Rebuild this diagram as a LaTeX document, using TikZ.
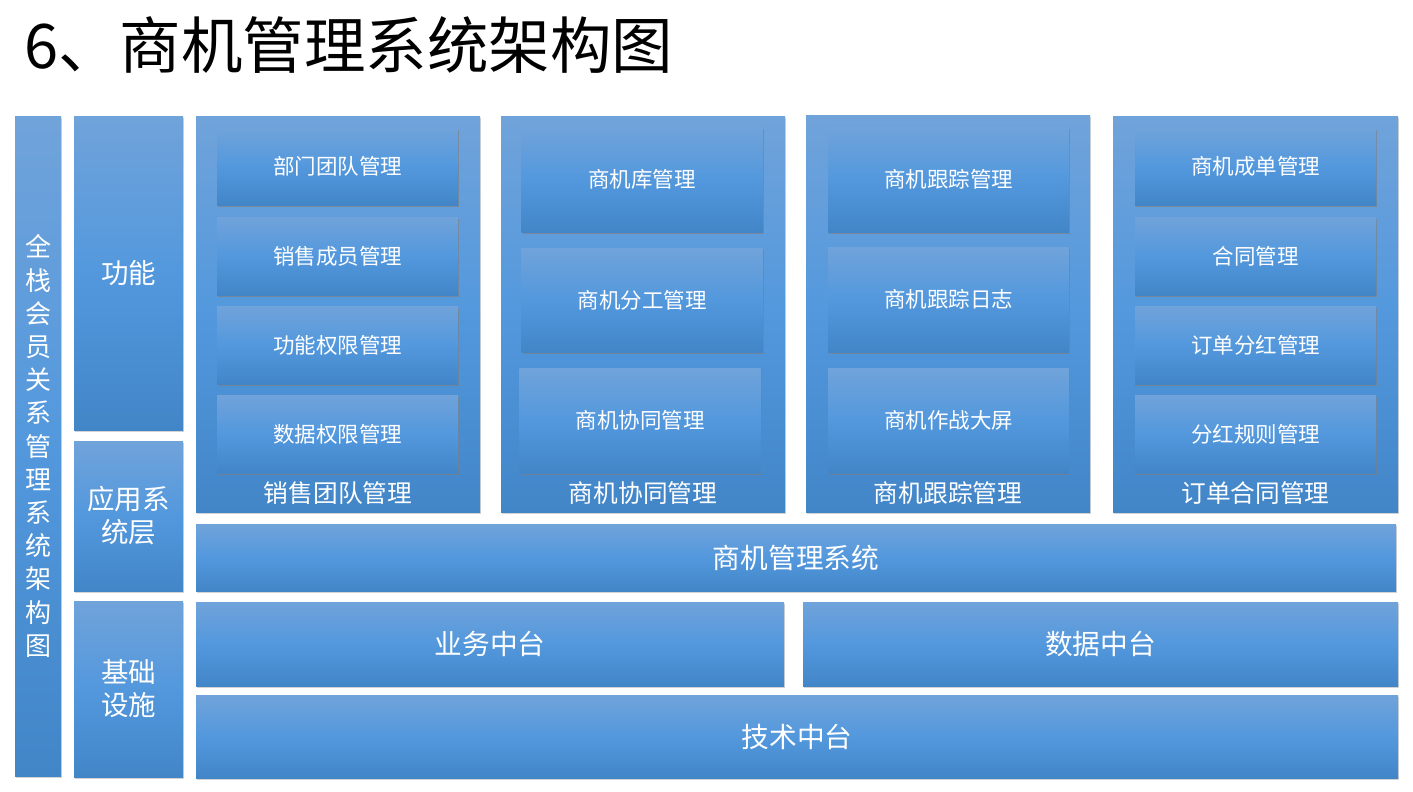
\documentclass[tikz,border=0pt]{standalone}
\usepackage{fontspec}
\setmainfont{Noto Sans CJK SC}
\usetikzlibrary{shadows}
\definecolor{boxtop}{RGB}{112,163,218}
\definecolor{boxmid}{RGB}{83,152,221}
\definecolor{boxbot}{RGB}{66,134,200}
\begin{document}
\begin{tikzpicture}[x=1pt,y=-1pt,
  blue box/.style={rectangle,inner sep=0pt,top color=boxtop,bottom color=boxbot,middle color=boxmid,
    text=white,align=center,drop shadow={shadow xshift=1pt,shadow yshift=-2pt,opacity=0.35}},
  bar/.style={blue box,font=\fontsize{27.5}{33}\selectfont},
  group/.style={blue box,minimum width=284pt,minimum height=396pt},
  item/.style={blue box,minimum width=241pt,font=\fontsize{21.5}{24}\selectfont,
    drop shadow={shadow xshift=1pt,shadow yshift=-2pt,opacity=0.5}},
  grouplabel/.style={text=white,font=\fontsize{24.7}{28}\selectfont},
  layer/.style={blue box,font=\fontsize{27.7}{32}\selectfont}]
\useasboundingbox (0,0) rectangle (1413,792);
\node[anchor=west,inner sep=0pt,font=\fontsize{61.5}{64}\selectfont] (title) at (24,45) {6、商机管理系统架构图};
% left column
\node[bar,minimum width=46pt,minimum height=660pt,font=\fontsize{26}{33.2}\selectfont] (whole) at (38,446)
  {全\\栈\\会\\员\\关\\系\\管\\理\\系\\统\\架\\构\\图};
\node[bar,minimum width=109pt,minimum height=314pt] (func) at (128.5,273) {功能};
\node[bar,minimum width=109pt,minimum height=150pt] (app) at (128.5,516) {应用系\\统层};
\node[bar,minimum width=109pt,minimum height=176pt] (infra) at (128.5,689) {基础\\设施};
% groups
\node[group] (g1) at (338,314) {};
\node[group] (g2) at (643,314) {};
\node[group,minimum height=397pt] (g3) at (948,313.5) {};
\node[group,minimum width=285pt] (g4) at (1255.5,314) {};
\node[grouplabel] (l1) at (338,493) {销售团队管理};
\node[grouplabel] (l2) at (643,493) {商机协同管理};
\node[grouplabel] (l3) at (948,493) {商机跟踪管理};
\node[grouplabel] (l4) at (1255.5,493) {订单合同管理};
% sales team
\node[item,minimum height=77pt] (a1) at (337.5,166.5) {部门团队管理};
\node[item,minimum height=78pt] (a2) at (337.5,256) {销售成员管理};
\node[item,minimum height=78pt] (a3) at (337.5,345) {功能权限管理};
\node[item,minimum height=78pt] (a4) at (337.5,434) {数据权限管理};
% cooperation
\node[item,minimum height=105pt] (b1) at (642,179.5) {商机库管理};
\node[item,minimum height=104pt] (b2) at (642,300) {商机分工管理};
\node[item,minimum height=105pt] (b3) at (640,420.5) {商机协同管理};
% tracking
\node[item,minimum height=105pt] (c1) at (948.5,179.5) {商机跟踪管理};
\node[item,minimum height=105pt] (c2) at (948.5,299.5) {商机跟踪日志};
\node[item,minimum height=105pt] (c3) at (948.5,420.5) {商机作战大屏};
% orders
\node[item,minimum height=77pt] (d1) at (1255.5,166.5) {商机成单管理};
\node[item,minimum height=78pt] (d2) at (1255.5,256) {合同管理};
\node[item,minimum height=78pt] (d3) at (1255.5,345) {订单分红管理};
\node[item,minimum height=78pt] (d4) at (1255.5,434) {分红规则管理};
% layers
\node[layer,minimum width=1200pt,minimum height=67pt] (sys) at (796,557.5) {商机管理系统};
\node[layer,minimum width=588pt,minimum height=84pt] (biz) at (490,644) {业务中台};
\node[layer,minimum width=595pt,minimum height=84pt] (data) at (1100.5,644) {数据中台};
\node[layer,minimum width=1202pt,minimum height=83pt] (tech) at (797,736.5) {技术中台};
\end{tikzpicture}
\end{document}
